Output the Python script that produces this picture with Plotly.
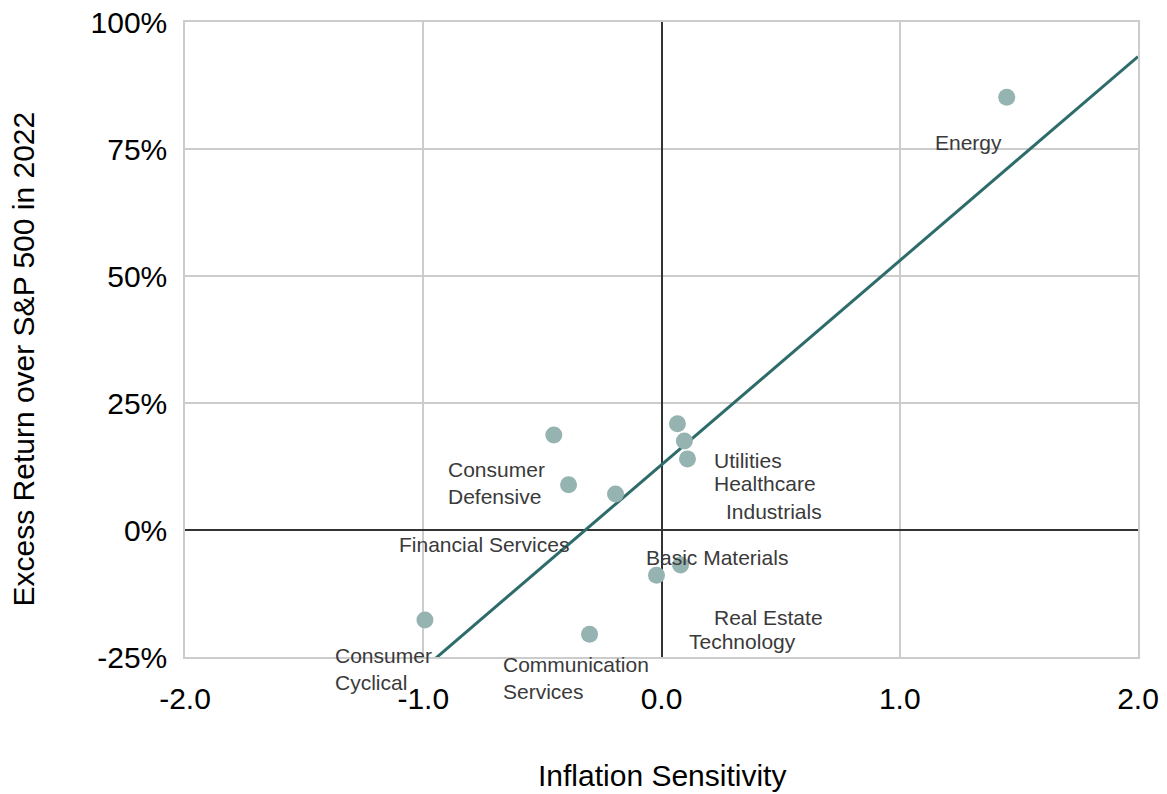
import plotly.graph_objects as go

# Sector data (inflation sensitivity vs excess return over S&P 500 in 2022, %)
sector_x = [1.449, 0.067, 0.096, 0.109, -0.452, -0.390, -0.193, -0.021, 0.080, -0.993, -0.302]
sector_y = [85.2, 20.9, 17.5, 14.0, 18.7, 8.9, 7.1, -8.9, -6.9, -17.7, -20.5]

# Labels as they appear on the chart
labels = ["Energy", "Utilities", "Healthcare", "Industrials", "Consumer<br>Defensive",
          "Financial Services", "Basic Materials", "Real Estate", "Technology",
          "Consumer<br>Cyclical", "Communication<br>Services"]
label_x = [1.288, 0.210, 0.210, 0.264, -0.903, -0.743, -0.072, 0.210, 0.105, -1.38, -0.675]
label_y = [76.2, 13.6, 9.1, 3.7, 9.25, -2.76, -5.5, -17.3, -22.0, -27.4, -29.1]
label_anchor = ["center", "left", "left", "left", "left", "center", "left", "left", "left", "left", "left"]

# Trend line
trend_slope = 40.18
trend_intercept = 12.84
trend_x = [-2.0, 2.0]
trend_y = [trend_intercept + trend_slope * v for v in trend_x]

x_ticks = [-2, -1, 0, 1, 2]
x_ticktext = ["-2.0", "-1.0", "0.0", "1.0", "2.0"]
y_ticks = [-25, 0, 25, 50, 75, 100]
y_ticktext = ["-25%", "0%", "25%", "50%", "75%", "100%"]

X_RANGE = [-2, 2]
Y_RANGE = [-25, 100]

FONT = "Liberation Sans, Arial, sans-serif"

fig = go.Figure()
fig.add_trace(go.Scatter(x=trend_x, y=trend_y, mode="lines",
                         line=dict(color="#2e6b6b", width=3), showlegend=False,
                         hoverinfo="skip"))
fig.add_trace(go.Scatter(x=sector_x, y=sector_y, mode="markers",
                         marker=dict(color="#95b3b0", size=17), showlegend=False,
                         cliponaxis=False))

for t, lx, ly, a in zip(labels, label_x, label_y, label_anchor):
    # y given in data units, mapped to the y axis domain so labels below the axis still show
    fig.add_annotation(x=lx, xref="x", y=(ly - Y_RANGE[0]) / (Y_RANGE[1] - Y_RANGE[0]), yref="y domain",
                       text=t, showarrow=False, xanchor=a, yanchor="middle",
                       align="left", font=dict(family=FONT, size=21, color="#3a3a3a"))

# Axis titles
fig.add_annotation(text="Inflation Sensitivity", x=0.5, xref="x domain", y=-0.186, yref="y domain",
                   showarrow=False, xanchor="center", yanchor="middle",
                   font=dict(family=FONT, size=30, color="#000000"))
fig.add_annotation(text="Excess Return over S&P 500 in 2022", x=-0.169, xref="x domain", y=0.47,
                   yref="y domain", showarrow=False, textangle=-90, xanchor="center", yanchor="middle",
                   font=dict(family=FONT, size=30, color="#000000"))

fig.update_layout(
    width=1159, height=786,
    margin=dict(l=177, r=29, t=14, b=137),
    plot_bgcolor="white", paper_bgcolor="white",
    font=dict(family=FONT, color="#000000"),
    xaxis=dict(range=X_RANGE, tickmode="array", tickvals=x_ticks, ticktext=x_ticktext,
               showgrid=True, gridcolor="#cccccc", gridwidth=1.5,
               zeroline=True, zerolinecolor="#333333", zerolinewidth=1.5,
               tickfont=dict(size=30), ticklabelstandoff=14, automargin=False,
               ticklabeloverflow="allow",
               showline=True, linecolor="#cccccc", linewidth=1.5, mirror=True),
    yaxis=dict(range=Y_RANGE, tickmode="array", tickvals=y_ticks, ticktext=y_ticktext,
               showgrid=True, gridcolor="#cccccc", gridwidth=1.5,
               zeroline=True, zerolinecolor="#333333", zerolinewidth=1.5,
               tickfont=dict(size=30), ticklabelstandoff=10, automargin=False,
               ticklabeloverflow="allow",
               showline=True, linecolor="#cccccc", linewidth=1.5, mirror=True),
)

fig.write_html("out.html")
